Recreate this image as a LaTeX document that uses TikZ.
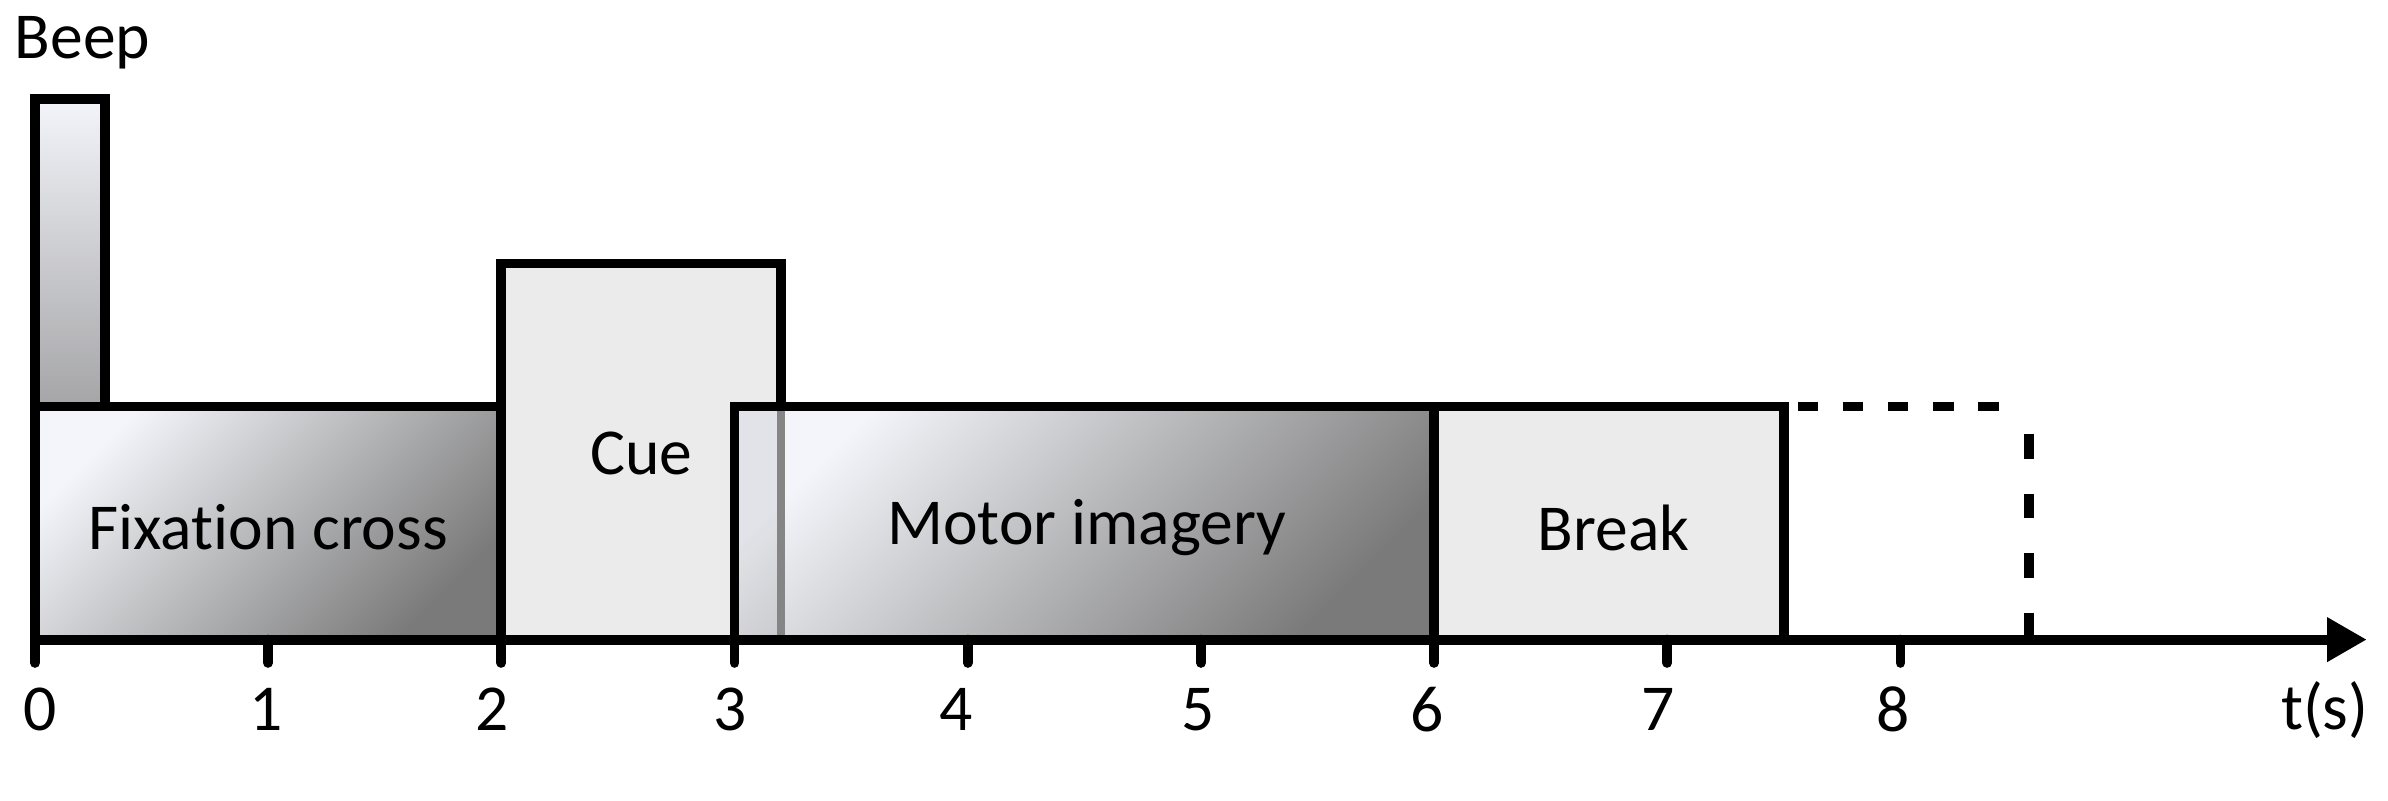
\documentclass[tikz,border=0pt]{standalone}
\usepackage{fontspec}
\setmainfont{Carlito}[Ligatures=NoCommon]
\usetikzlibrary{arrows.meta}
\definecolor{paleTop}{RGB}{244,245,250}
\definecolor{darkEnd}{RGB}{122,122,122}
\definecolor{beepEnd}{RGB}{165,165,168}
\definecolor{flatGray}{RGB}{235,235,235}
\definecolor{edgeGray}{RGB}{133,133,133}

\begin{document}
\begin{tikzpicture}[x=2cm,y=2cm,
  box/.style={draw=black,line width=2.4pt},
  shaded/.style={top color=paleTop,bottom color=darkEnd,shading angle=45},
  lbl/.style={font=\fontsize{16}{19}\selectfont,inner sep=0pt}]
\useasboundingbox (-0.150,-0.692) rectangle (10.091,2.743);

% beep and fixation cross
\shade[top color=paleTop,bottom color=beepEnd] (0,1) rectangle (0.3,2.32);
\draw[box] (0,1) rectangle (0.3,2.32);
\shade[shaded] (0,0) rectangle (2,1);
\draw[box] (0,0) rectangle (2,1);

% cue
\draw[box,fill=flatGray] (2,0) rectangle (3.2,1.613);

% motor imagery, lying over the end of the cue
\shade[shaded] (3,0) rectangle (6,1);
\fill[black,opacity=0.07] (3,0) rectangle (3.2,1);
\draw[edgeGray,line width=2pt] (3.2,0) -- (3.2,1);
\draw[box] (3,0) rectangle (6,1);

% break
\draw[box,fill=flatGray] (6,0) rectangle (7.5,1);

% next trial
\draw[line width=2.4pt,dash pattern=on 5pt off 6pt] (7.56,1) -- (8.52,1);
\draw[line width=2.4pt,dash pattern=on 6pt off 8.5pt] (8.55,0.88) -- (8.55,0);

% time axis
\coordinate (o) at (0,0);
\coordinate (tend) at (10.0,0);
\draw[line width=2.4pt,-{Triangle[length=0.34cm,width=0.36cm]}] (o) -- (tend);
\foreach \t in {0,...,8}
  \draw[line width=2.4pt,line cap=round] (\t,0) -- (\t,-0.10);

\node[lbl] (l0) at (0.02,-0.30) {0};
\node[lbl] (l1) at (0.99,-0.30) {1};
\node[lbl] (l2) at (1.96,-0.30) {2};
\node[lbl] (l3) at (2.98,-0.30) {3};
\node[lbl] (l4) at (3.95,-0.30) {4};
\node[lbl] (l5) at (4.99,-0.30) {5};
\node[lbl] (l6) at (5.97,-0.30) {6};
\node[lbl] (l7) at (6.96,-0.30) {7};
\node[lbl] (l8) at (7.97,-0.30) {8};
\node[lbl] (tlab) at (9.82,-0.30) {t(s)};

\node[lbl,anchor=west] (beep) at (-0.09,2.56) {Beep};
\node[lbl] (fix) at (1.0,0.48) {Fixation cross};
\node[lbl] (cue) at (2.6,0.80) {Cue};
\node[lbl] (mi) at (4.51,0.48) {Motor imagery};
\node[lbl] (brk) at (6.77,0.48) {Break};

\end{tikzpicture}
\end{document}
